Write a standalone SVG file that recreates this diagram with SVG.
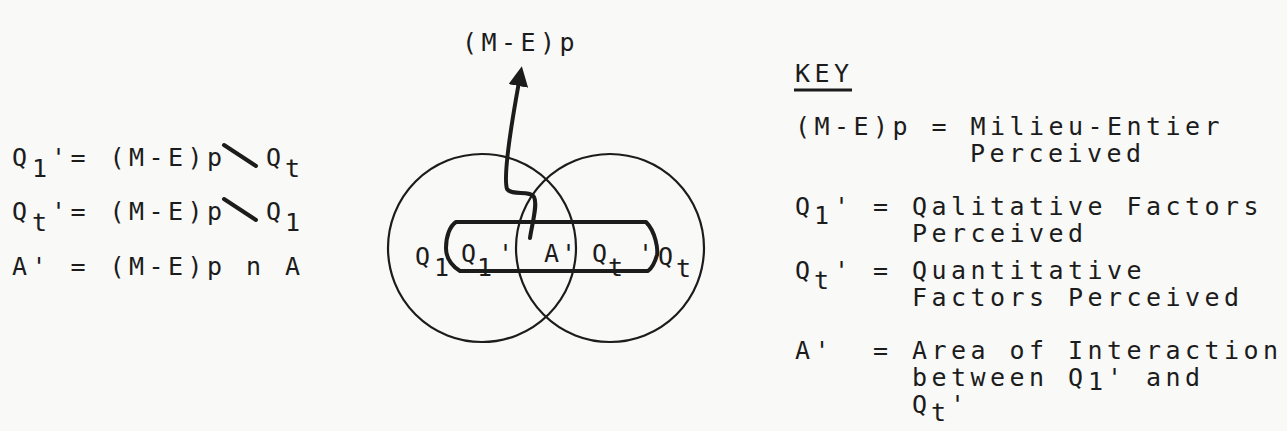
<svg xmlns="http://www.w3.org/2000/svg" width="1287" height="431" viewBox="0 0 1287 431">
<style>
  .t { font-family: "DejaVu Sans Mono", "Liberation Mono", monospace; font-size: 25px; fill: #1c1c1c; letter-spacing: 4.45px; }
  .ln { fill: none; stroke: #1c1c1c; stroke-width: 2.2; }
  .bold { fill: none; stroke: #1c1c1c; stroke-width: 4; stroke-linecap: round; stroke-linejoin: round; }
</style>
<defs>
  <marker id="ah" viewBox="0 0 10 10" refX="2" refY="5" markerWidth="5" markerHeight="5" orient="auto" markerUnits="strokeWidth">
    <path d="M0,0 L10,5 L0,10 Z" fill="#1c1c1c"/>
  </marker>
</defs>
<rect x="0" y="0" width="1287" height="431" fill="#f9f9f8"/>

<g id="equations">
  <text class="t" x="12" y="166">Q</text>
  <text class="t" x="32" y="177">1</text>
  <text class="t" x="51" y="166" xml:space="preserve">'= (M-E)p</text>
  <line class="bold" x1="224" y1="145" x2="256" y2="166"/>
  <text class="t" x="266" y="166">Q</text>
  <text class="t" x="285" y="177">t</text>

  <text class="t" x="12" y="220">Q</text>
  <text class="t" x="32" y="231">t</text>
  <text class="t" x="51" y="220" xml:space="preserve">'= (M-E)p</text>
  <line class="bold" x1="224" y1="199" x2="256" y2="220"/>
  <text class="t" x="266" y="220">Q</text>
  <text class="t" x="285" y="231">1</text>

  <text class="t" x="12" y="275" xml:space="preserve">A' = (M-E)p n A</text>
</g>

<g id="circle-q1">
  <circle class="ln" cx="482" cy="248" r="94"/>
  <text class="t" x="415" y="265">Q</text>
  <text class="t" x="434" y="276">1</text>
</g>
<g id="circle-qt">
  <circle class="ln" cx="610" cy="248" r="94"/>
  <text class="t" x="658" y="265">Q</text>
  <text class="t" x="676" y="277">t</text>
</g>

<g id="perceived-band">
  <path class="bold" d="M456,222 L646,222 C656,232 658,250 657,255 C655,262 652,268 648,271 L460,271 C452,266 446,258 446,248 C446,236 450,226 456,222 Z" stroke-width="3.5"/>
  <text class="t" x="461" y="262">Q</text>
  <text class="t" x="477" y="276">1</text>
  <text class="t" x="498" y="262">'</text>
  <text class="t" x="544" y="262">A</text>
  <text class="t" x="561" y="262">'</text>
  <text class="t" x="592" y="262">Q</text>
  <text class="t" x="608" y="276">t</text>
  <text class="t" x="638" y="262">'</text>
</g>

<g id="label-me-top">
  <text class="t" x="462" y="51">(M-E)p</text>
</g>

<g id="connectors">
  <path class="bold" d="M530,238 C532,224 538,204 534,197 C530,190 512,196 507,189 C503,176 511,126 519,82" marker-end="url(#ah)"/>
</g>

<g id="key">
  <text class="t" x="795" y="82">KEY</text>
  <line x1="794" y1="90" x2="852" y2="90" stroke="#1c1c1c" stroke-width="3"/>
  <text class="t" x="795" y="135" xml:space="preserve">(M-E)p = Milieu-Entier</text>
  <text class="t" x="970" y="162">Perceived</text>
  <text class="t" x="795" y="215">Q</text>
  <text class="t" x="814" y="224">1</text>
  <text class="t" x="834" y="215" xml:space="preserve">' = Qalitative Factors</text>
  <text class="t" x="912" y="242">Perceived</text>
  <text class="t" x="795" y="279">Q</text>
  <text class="t" x="814" y="289">t</text>
  <text class="t" x="834" y="279" xml:space="preserve">' = Quantitative</text>
  <text class="t" x="912" y="306">Factors Perceived</text>
  <text class="t" x="795" y="359" xml:space="preserve">A'  = Area of Interaction</text>
  <text class="t" x="912" y="386">between Q</text>
  <text class="t" x="1088" y="390">1</text>
  <text class="t" x="1107" y="386" xml:space="preserve">' and</text>
  <text class="t" x="912" y="413">Q</text>
  <text class="t" x="931" y="421">t</text>
  <text class="t" x="950" y="413">'</text>
</g>
</svg>
